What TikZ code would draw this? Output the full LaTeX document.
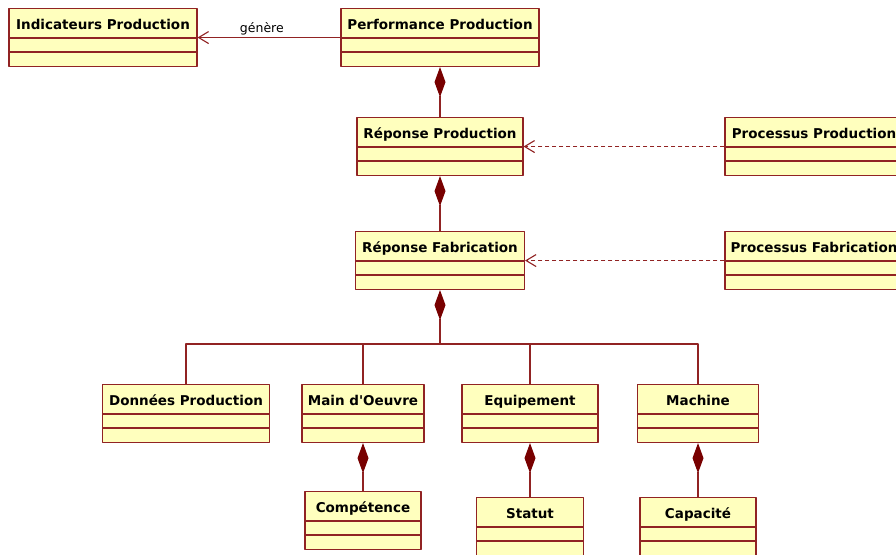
\documentclass[tikz,border=0pt]{standalone}
\usepackage{fontspec}
\setmainfont{DejaVu Sans}
\usetikzlibrary{calc,arrows.meta}

\definecolor{umlred}{RGB}{145,35,35}
\definecolor{umldark}{RGB}{120,0,0}
\definecolor{umlfill}{RGB}{255,255,190}

% class box: name, centre x, top y, width, title
\newcommand{\umlclass}[5]{%
  \node[cls,minimum width=#4] (#1) at (#2,#3) {};
  \node[clstitle] (#1-t) at ($(#1.north)+(0,17.5)$) {#5};
  \draw[clsline] ($(#1.north west)+(0,30)$) -- ($(#1.north east)+(0,30)$);
  \draw[clsline] ($(#1.north west)+(0,44)$) -- ($(#1.north east)+(0,44)$);
}

\begin{document}
\begin{tikzpicture}[x=1pt,y=-1pt,line join=round,
  cls/.style={draw=umlred,fill=umlfill,line width=1.1pt,anchor=north,minimum height=58pt,inner sep=0pt},
  clstitle/.style={font=\fontsize{13.5}{16}\selectfont\bfseries,inner sep=0pt,text height=10pt,text depth=3pt},
  clsline/.style={umlred,line width=1.1pt},
  tree/.style={umlred,line width=1.1pt},
  comp/.style={tree,{Diamond[length=30pt,width=11pt,fill=umldark,color=umldark]}-},
  assoc/.style={tree,-{Straight Barb[length=10pt,width=12pt]}},
  dep/.style={assoc,dash pattern=on 4pt off 3pt},
  lbl/.style={font=\fontsize{12.5}{15}\selectfont,text=black,inner sep=1.5pt}]
  \useasboundingbox (0,0) rectangle (896,554);
  \clip (0,0) rectangle (896,554);

  \umlclass{ind}{103}{8}{188}{Indicateurs Production}
  \umlclass{perf}{440}{8}{198}{Performance Production}
  \umlclass{repp}{440}{117}{166}{Réponse Production}
  \umlclass{procp}{814}{117}{178}{Processus Production}
  \umlclass{repf}{440}{231}{169}{Réponse Fabrication}
  \umlclass{procf}{814}{231}{178}{Processus Fabrication}
  \umlclass{don}{186}{384}{167}{Données Production}
  \umlclass{mdo}{363}{384}{122}{Main d\textquotesingle Oeuvre}
  \umlclass{equ}{530}{384}{136}{Equipement}
  \umlclass{mach}{698}{384}{121}{Machine}
  \umlclass{compt}{363}{491}{116}{Compétence}
  \umlclass{stat}{530}{497}{107}{Statut}
  \umlclass{capa}{698}{497}{116}{Capacité}

  \draw[assoc] (perf.west) -- node[lbl,pos=0.55,above]{génère} (ind.east);
  \draw[comp] (perf.south) -- (repp.north);
  \draw[comp] (repp.south) -- (repf.north);
  \draw[dep] (procp.west) -- (repp.east);
  \draw[dep] (procf.west) -- (repf.east);

  \coordinate (bus) at (440,344);
  \draw[comp] (repf.south) -- (bus);
  \draw[tree] (bus) -| (don.north);
  \draw[tree] (bus) -| (mdo.north);
  \draw[tree] (bus) -| (equ.north);
  \draw[tree] (bus) -| (mach.north);

  \draw[comp] (mdo.south) -- (compt.north);
  \draw[comp] (equ.south) -- (stat.north);
  \draw[comp] (mach.south) -- (capa.north);
\end{tikzpicture}
\end{document}
